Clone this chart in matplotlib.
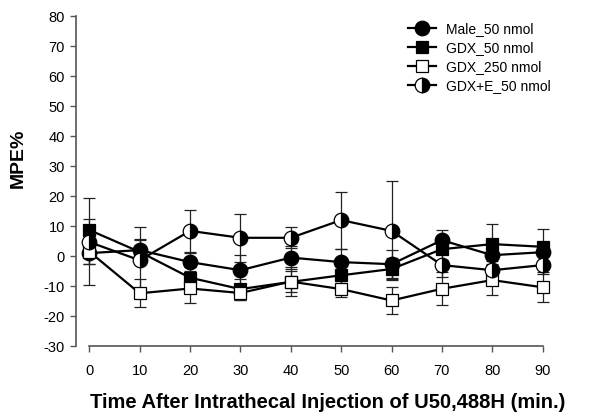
import numpy as np
import matplotlib.pyplot as plt
from matplotlib.lines import Line2D

plt.rcParams['font.family'] = ['Liberation Sans', 'DejaVu Sans']
plt.rcParams['axes.unicode_minus'] = False

minutes = [0, 10, 20, 30, 40, 50, 60, 70, 80, 90]

male_50 = [1.0, 2.0, -2.0, -4.7, -0.5, -2.0, -2.7, 5.3, 0.3, 1.3]
male_50_err = [3.5, 3.7, 3.0, 5.0, 3.8, 4.2, 4.7, 3.4, 4.0, 3.5]

gdx_50 = [8.7, 1.4, -7.2, -11.0, -8.6, -6.4, -4.3, 2.3, 4.0, 3.1]
gdx_50_err = [3.8, 4.0, 3.5, 3.5, 4.8, 4.0, 3.5, 3.5, 6.8, 6.0]

gdx_250 = [1.5, -12.4, -10.8, -12.3, -8.5, -11.0, -14.8, -10.9, -8.0, -10.4]
gdx_250_err = [4.0, 4.6, 4.8, 2.5, 3.5, 2.6, 4.6, 5.5, 5.0, 5.0]

gdxe_50 = [4.7, -1.4, 8.4, 6.1, 6.1, 12.0, 8.4, -3.0, -4.7, -3.0]
gdxe_50_err = [14.5, 11.0, 7.0, 8.0, 3.5, 9.5, 16.5, 4.0, 3.0, 3.0]

labels = ['Male_50 nmol', 'GDX_50 nmol', 'GDX_250 nmol', 'GDX+E_50 nmol']

fig = plt.figure(figsize=(6, 4.13), dpi=100)
ax = fig.add_axes([0.127, 0.162, 0.811, 0.799])

series = [
    (male_50, male_50_err, dict(marker='o', markersize=10.5, markerfacecolor='black')),
    (gdx_50, gdx_50_err, dict(marker='s', markersize=9, markerfacecolor='black')),
    (gdx_250, gdx_250_err, dict(marker='s', markersize=9, markerfacecolor='white')),
    (gdxe_50, gdxe_50_err, dict(marker='o', markersize=10.5, markerfacecolor='black',
                                 fillstyle='right', markerfacecoloralt='white')),
]

handles = []
for (vals, errs, style), lab in zip(series, labels):
    ax.errorbar(minutes, vals, yerr=errs, fmt='none', ecolor='#222222',
                elinewidth=0.9, capsize=4.5, capthick=0.9, zorder=2)
    ax.plot(minutes, vals, color='black', linewidth=1.6,
            markeredgecolor='black', markeredgewidth=0.9, zorder=3, **style)
    handles.append(Line2D([0], [0], color='black', linewidth=1.6,
                          markeredgecolor='black', markeredgewidth=0.9, **style))

ax.set_xlim(-2.6, 94)
ax.set_ylim(-30, 80)
ax.set_xticks(minutes)
ax.set_yticks(np.arange(-30, 81, 10))

for s in ['top', 'right']:
    ax.spines[s].set_visible(False)
ax.spines['left'].set_color('#555555')
ax.spines['bottom'].set_color('#555555')
ax.spines['left'].set_linewidth(1.2)
ax.spines['bottom'].set_linewidth(1.2)
ax.spines['bottom'].set_bounds(0, 90)
ax.tick_params(direction='out', length=4, width=1, color='#555555',
               labelsize=10.5)
ax.tick_params(axis='x', pad=9)
ax.tick_params(axis='y', pad=4)

ax.set_xlabel('Time After Intrathecal Injection of U50,488H (min.)',
              fontsize=14.5, fontweight='bold', labelpad=11, x=0.517)
ax.set_ylabel('MPE%', fontsize=14, fontweight='bold', labelpad=12, y=0.57)

ax.legend(handles, labels, loc='upper right', bbox_to_anchor=(1.0, 1.02),
          frameon=False, fontsize=10, handlelength=2.0, labelspacing=0.35,
          handletextpad=0.7)

fig.savefig('out.png', dpi=100)
